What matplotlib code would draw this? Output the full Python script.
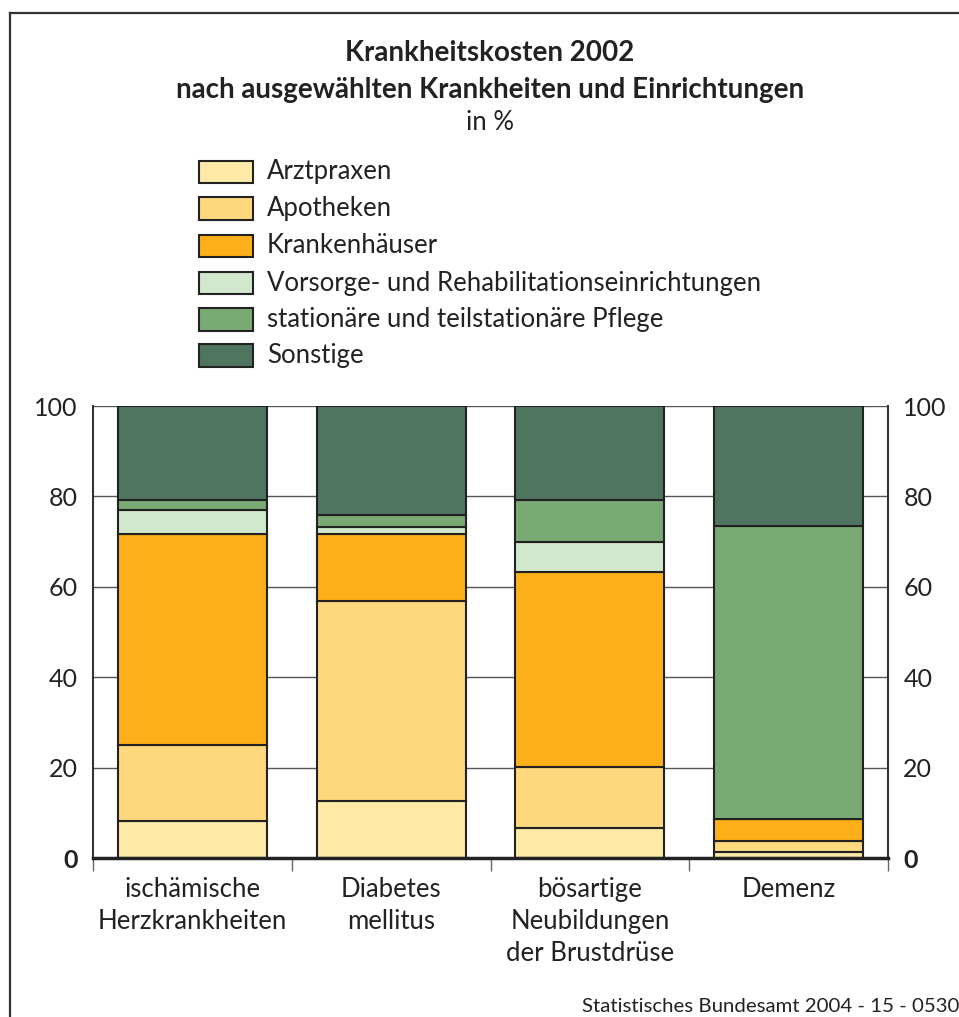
import matplotlib
matplotlib.use("Agg")
import matplotlib.pyplot as plt
from matplotlib.patches import Rectangle
from matplotlib.lines import Line2D
import numpy as np

plt.rcParams["font.family"] = ["Lato", "DejaVu Sans"]

W, H = 959, 1017

categories = ["ischämische\nHerzkrankheiten", "Diabetes\nmellitus",
              "bösartige\nNeubildungen\nder Brustdrüse", "Demenz"]
series_names = ["Arztpraxen", "Apotheken", "Krankenhäuser",
                "Vorsorge- und Rehabilitationseinrichtungen",
                "stationäre und teilstationäre Pflege", "Sonstige"]
arztpraxen = [8.2, 12.6, 6.7, 1.3]
apotheken = [16.8, 44.3, 13.4, 2.4]
krankenhaeuser = [46.7, 14.7, 43.1, 5.0]
vorsorge = [5.3, 1.7, 6.8, 0.0]
pflege = [2.1, 2.5, 9.1, 64.7]
sonstige = [20.9, 24.2, 20.9, 26.6]
series = [arztpraxen, apotheken, krankenhaeuser, vorsorge, pflege, sonstige]
colors = ["#FFE9A6", "#FFD77C", "#FDB019", "#D1E8CD", "#79AA74", "#4F745F"]
yticks = [0, 20, 40, 60, 80, 100]

EDGE = "#222222"
INK = "#222222"


def fx(px):
    return px / W


def fy(py):
    return 1 - py / H


fig = plt.figure(figsize=(W / 100, H / 100), dpi=100, facecolor="white")

# outer frame (only top and left edges are inside the picture)
fig.add_artist(Line2D([fx(10), fx(10)], [fy(13), fy(1030)], color="#333333", lw=1.6,
                      transform=fig.transFigure))
fig.add_artist(Line2D([fx(10), fx(970)], [fy(13), fy(13)], color="#333333", lw=1.6,
                      transform=fig.transFigure))

# titles
cx = fx(490)
fig.text(cx, fy(53), "Krankheitskosten 2002", ha="center", va="center",
         fontsize=20, fontweight="bold", color=INK)
fig.text(cx, fy(90), "nach ausgewählten Krankheiten und Einrichtungen", ha="center",
         va="center", fontsize=20, fontweight="bold", color=INK)
fig.text(cx, fy(122), "in %", ha="center", va="center", fontsize=18.5, color=INK)

# legend
row_y = [172, 208.5, 245.5, 283, 319.5, 355.5]
for name, col, yc in zip(series_names, colors, row_y):
    fig.add_artist(Rectangle((fx(199), fy(yc + 11)), 54 / W, 22 / H, facecolor=col,
                             edgecolor=EDGE, lw=1.5, transform=fig.transFigure))
    fig.text(fx(267), fy(yc), name, ha="left", va="center", fontsize=18.5, color=INK)

# axes
ax = fig.add_axes([fx(93), fy(858), (888 - 93) / W, (858 - 406) / H])
x = np.arange(len(categories))
bottom = np.zeros(len(categories))
for vals, col in zip(series, colors):
    ax.bar(x, vals, width=0.75, bottom=bottom, color=col, edgecolor=EDGE,
           linewidth=1.5, zorder=3)
    bottom += np.array(vals)

ax.set_xlim(-0.5, len(categories) - 0.5)
ax.set_ylim(0, 100)
ax.set_yticks(yticks)
ax.set_yticklabels([str(t) for t in yticks])
ax.yaxis.grid(True, color="#555555", lw=1.0, zorder=0)
ax.set_axisbelow(True)
ax.tick_params(axis="y", length=0, labelsize=18, labelcolor=INK, pad=11,
               labelright=True, right=False)
for tick in ax.yaxis.get_major_ticks():
    if tick.get_loc() == 0:
        tick.label1.set_fontweight("bold")
        tick.label2.set_fontweight("bold")

ax.set_xticks(x)
ax.set_xticklabels(categories, linespacing=1.33)
ax.set_xticks(np.arange(-0.5, len(categories)), minor=True)
ax.tick_params(axis="x", which="major", length=0, labelsize=18.5, labelcolor=INK, pad=14)
ax.tick_params(axis="x", which="minor", length=9, width=1.0, color="#666666")

for side in ("left", "right"):
    ax.spines[side].set_color("#333333")
    ax.spines[side].set_linewidth(1.5)
ax.spines["top"].set_visible(False)
ax.spines["bottom"].set_color(EDGE)
ax.spines["bottom"].set_linewidth(2.5)
ax.spines["bottom"].set_zorder(4)

fig.text(fx(959), fy(1012), "Statistisches Bundesamt 2004 - 15 - 0530", ha="right",
         va="baseline", fontsize=14.7, color=INK)

fig.savefig("out.png", dpi=100, facecolor="white")
